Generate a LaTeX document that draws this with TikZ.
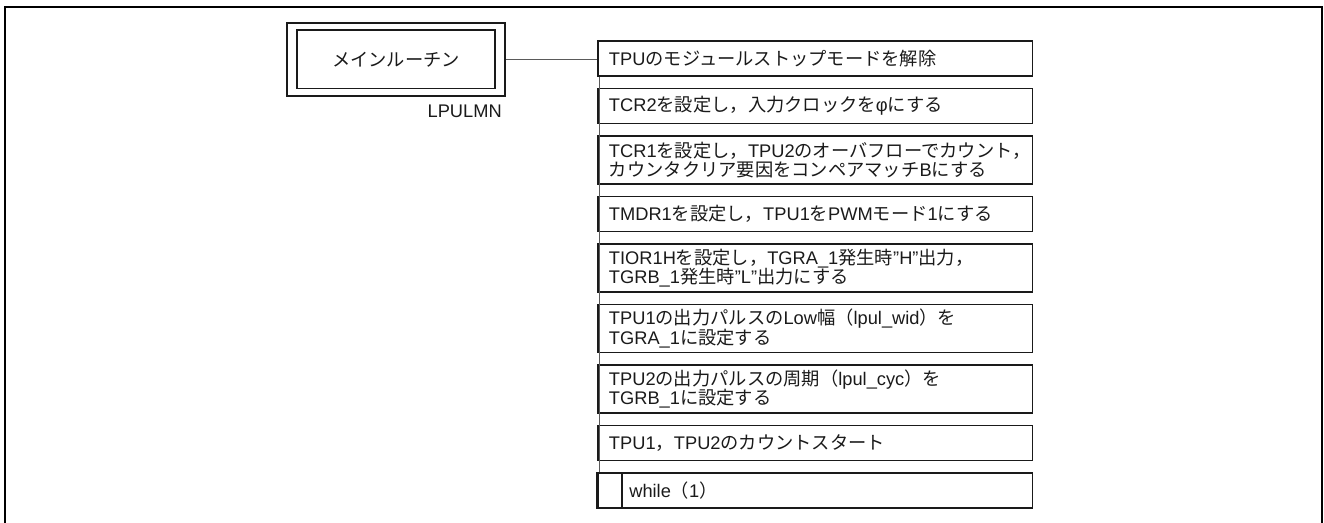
\documentclass[tikz,border=0pt]{standalone}
\usepackage{fontspec}
\setmainfont{Liberation Sans}
\newfontfamily\jp{Noto Sans CJK JP}
\definecolor{ink}{HTML}{1A1A1A}
\definecolor{wire}{HTML}{5A5A5A}
\begin{document}
\begin{tikzpicture}[x=0.75pt,y=-0.75pt,
  every node/.style={font=\fontsize{13.7pt}{14.6pt}\selectfont, text=ink},
  stepbox/.style={draw=ink, line width=1.4pt, rectangle, minimum width=325.9pt,
    text width=309.4pt, inner xsep=8.25pt, inner ysep=0pt, align=left},
  onebox/.style={stepbox, minimum height=26.25pt},
  twobox/.style={stepbox, minimum height=36pt},
  loopbox/.style={draw=ink, line width=1.4pt, rectangle, minimum width=325.9pt, minimum height=26.25pt, inner sep=0pt},
  mainbox/.style={draw=ink, line width=1.4pt, rectangle, minimum width=148.5pt, minimum height=43.7pt},
  outerbox/.style={draw=ink, line width=1.4pt, rectangle, minimum width=163.5pt, minimum height=54.75pt, inner sep=0pt},
  plaintext/.style={inner sep=0pt},
  boxline/.style={draw=ink, line width=1.4pt},
  connline/.style={draw=wire, line width=0.8pt},
  framedraw/.style={draw=black, line width=1.5pt}
]
\useasboundingbox (0,0) rectangle (1324,522);
\draw[framedraw] (5,524) -- (5,7) -- (1322,7) -- (1322,524);

% main routine
\node[mainbox] (main) at (396,59.3) {{\jp メインルーチン}};
\node[outerbox] (mainout) at (main.center) {};
\node[plaintext, anchor=east] (mainlabel) at (502,111) {LPULMN};

% steps
\node[onebox] (s1) at (815.25,58.5) {TPU{\jp のモジュールストップモードを解除}};
\node[onebox] (s2) at (815.25,106) {TCR2{\jp を設定し，入力クロックを}φ{\jp にする}};
\node[twobox] (s3) at (815.25,160) {TCR1{\jp を設定し，}TPU2{\jp のオーバフローでカウント，}\\{\jp カウンタクリア要因をコンペアマッチ}B{\jp にする}};
\node[onebox] (s4) at (815.25,214) {TMDR1{\jp を設定し，}TPU1{\jp を}PWM{\jp モード}1{\jp にする}};
\node[twobox] (s5) at (815.25,268) {TIOR1H{\jp を設定し，}TGRA\_1{\jp 発生時}"H"{\jp 出力，}\\TGRB\_1{\jp 発生時}"L"{\jp 出力にする}};
\node[twobox] (s6) at (815.25,328.5) {TPU1{\jp の出力パルスの}Low{\jp 幅（}lpul\_wid{\jp ）を}\\TGRA\_1{\jp に設定する}};
\node[twobox] (s7) at (815.25,389) {TPU2{\jp の出力パルスの周期（}lpul\_cyc{\jp ）を}\\TGRB\_1{\jp に設定する}};
\node[onebox] (s8) at (815.25,443) {TPU1{\jp ，}TPU2{\jp のカウントスタート}};
\node[loopbox] (s9) at (815.25,490.5) {};
\node[plaintext, anchor=west] (s9t) at ([xshift=24pt]s9.west) {while{\jp （}1{\jp ）}};
\draw[boxline] ([xshift=18.75pt]s9.north west) -- ([xshift=18.75pt]s9.south west);
\draw[draw=ink, line width=2.2pt] (s9.north west) -- (s9.south west);

% connectors
\draw[connline] (mainout.east) -- (mainout.east -| s1.west);
\draw[connline] ([xshift=1.7pt]s1.south west) -- ([xshift=1.7pt]s9.north west);
\end{tikzpicture}
\end{document}
